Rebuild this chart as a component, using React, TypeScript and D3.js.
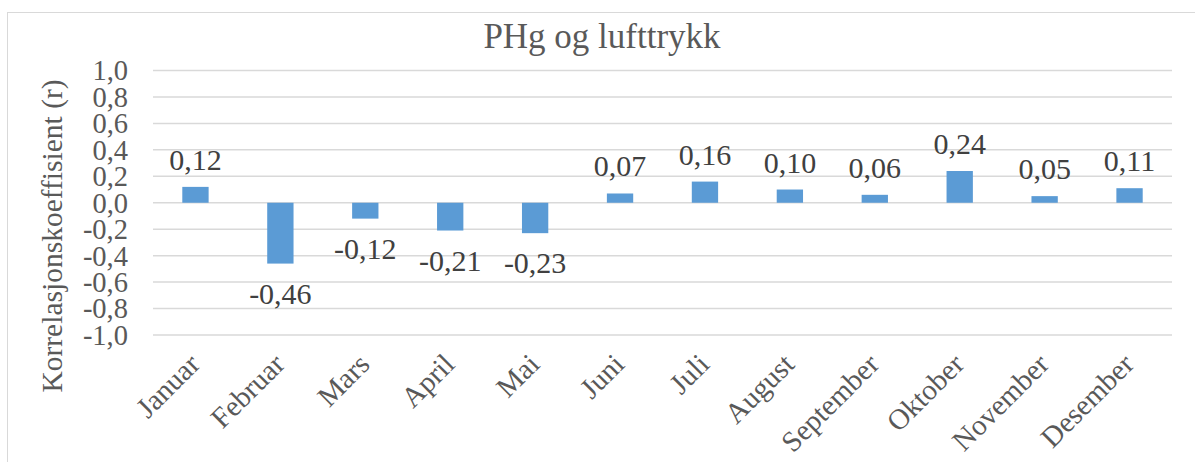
import {useEffect, useRef} from "react";
import * as d3 from "d3";

const SvgWidth = 1195;
const SvgHeight = 462;

const months = ["Januar", "Februar", "Mars", "April", "Mai", "Juni", "Juli", "August", "September", "Oktober", "November", "Desember"];
const rValues = [0.12, -0.46, -0.12, -0.21, -0.23, 0.07, 0.16, 0.10, 0.06, 0.24, 0.05, 0.11];
const yTicks = [1.0, 0.8, 0.6, 0.4, 0.2, 0.0, -0.2, -0.4, -0.6, -0.8, -1.0];

const chartTitle = "PHg og lufttrykk";
const yTitle = "Korrelasjonskoeffisient (r)";

const barColor = "#5b9bd5";
const gridColor = "#d9d9d9";
const textColor = "#595959";
const fontFamily = "'Liberation Serif', 'Times New Roman', serif";

// plot area
const left = 153;
const right = 1172;
const top = 70.5;
const bottom = 335;

function fmt(v) {
    return v.toFixed(2).replace(".", ",");
}

function App() {
    const xAxisRef = useRef(null);
    const yAxisRef = useRef(null);

    const xScale = d3.scaleBand()
        .domain(months)
        .range([left, right])
        .paddingInner(0.69)
        .paddingOuter(0.345);

    const yScale = d3.scaleLinear()
        .domain([-1, 1])
        .range([bottom, top]);

    useEffect(() => {
        let yAxisElm = d3.select(yAxisRef.current);
        yAxisElm.call(
            d3.axisLeft(yScale)
                .tickValues(yTicks)
                .tickSize(0)
                .tickPadding(25)
                // @ts-ignore
                .tickFormat((d) => d.toFixed(1).replace(".", ","))
        );
        yAxisElm.select(".domain").remove();
        yAxisElm.selectAll("text")
            .attr("fill", textColor)
            .attr("font-size", 28.5)
            .attr("font-family", fontFamily)
            .attr("dy", "0.33em");

        let xAxisElm = d3.select(xAxisRef.current);
        xAxisElm.call(d3.axisBottom(xScale).tickSize(0).tickPadding(0));
        xAxisElm.select(".domain").remove();
        xAxisElm.selectAll("text")
            .attr("fill", textColor)
            .attr("font-size", 29)
            .attr("font-family", fontFamily)
            .attr("text-anchor", "end")
            .attr("dy", 0)
            .attr("y", 0)
            .attr("transform", "translate(6, 31) rotate(-45)");
    }, []);

    return (
        <div>
            <svg width={SvgWidth} height={SvgHeight} style={{display: "block", position: "absolute", left: 0, top: 0}}>
                <rect x={0} y={0} width={SvgWidth} height={SvgHeight} fill="white"></rect>
                <rect x={7.5} y={12.5} width={1200} height={460} fill="none" stroke={gridColor} strokeWidth={1}></rect>

                {yTicks.map((t) => (
                    <line
                        key={"g" + t}
                        x1={left}
                        x2={right}
                        y1={yScale(t)}
                        y2={yScale(t)}
                        stroke={gridColor}
                        strokeWidth={1.5}
                    ></line>
                ))}

                {rValues.map((v, i) => (
                    <rect
                        key={"b" + i}
                        x={xScale(months[i])}
                        width={xScale.bandwidth()}
                        y={yScale(Math.max(0, v))}
                        height={Math.abs(yScale(v) - yScale(0))}
                        fill={barColor}
                    ></rect>
                ))}

                {rValues.map((v, i) => (
                    <text
                        key={"l" + i}
                        x={xScale(months[i]) + xScale.bandwidth() / 2}
                        y={v >= 0 ? yScale(v) - 17 : yScale(v) + 40}
                        textAnchor="middle"
                        fontSize={30}
                        fontFamily={fontFamily}
                        fill="#404040"
                    >
                        {fmt(v)}
                    </text>
                ))}

                <g ref={yAxisRef} transform={"translate(153, 0)"}></g>
                <g ref={xAxisRef} transform={`translate(0, ${bottom})`}></g>

                <text
                    x={602}
                    y={48}
                    textAnchor="middle"
                    fontSize={35}
                    fontFamily={fontFamily}
                    fill={textColor}
                >
                    {chartTitle}
                </text>

                <text
                    transform={"translate(62, 236) rotate(-90)"}
                    textAnchor="middle"
                    fontSize={29.5}
                    fontFamily={fontFamily}
                    fill={textColor}
                >
                    {yTitle}
                </text>
            </svg>
        </div>
    );
}

export default App;
